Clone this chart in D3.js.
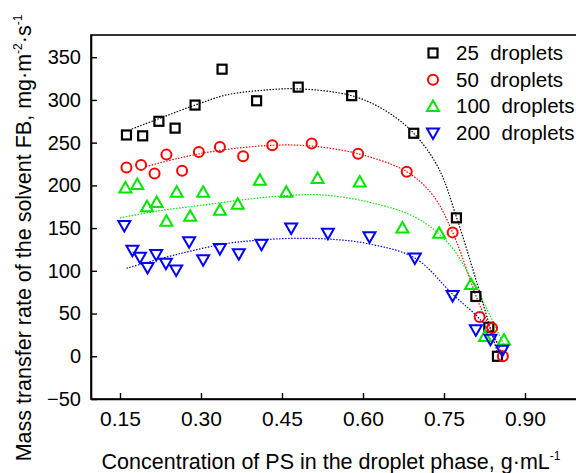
<!DOCTYPE html>
<html>
<head>
<meta charset="utf-8">
<script src="https://cdn.jsdelivr.net/npm/d3@7"></script>
<style>
  body { margin: 0; background: #fff; }
  text { font-family: "Liberation Sans", Arial, sans-serif; fill: #000; }
</style>
</head>
<body>
<script>
var conc25 = [0.162, 0.192, 0.222, 0.252, 0.289, 0.339, 0.403, 0.480, 0.579, 0.694, 0.773, 0.809, 0.833, 0.849]
var rate25 = [259, 258, 275, 267, 294, 336, 299, 315, 305, 261, 162, 70, 34, 0]

var conc50 = [0.162, 0.189, 0.214, 0.236, 0.265, 0.296, 0.335, 0.378, 0.432, 0.505, 0.591, 0.681, 0.766, 0.816, 0.839, 0.859]
var rate50 = [221, 224, 214, 236, 217, 239, 245, 234, 247, 249, 237, 216, 145, 46, 33, 0]

var conc100 = [0.160, 0.182, 0.200, 0.218, 0.236, 0.255, 0.280, 0.304, 0.335, 0.368, 0.409, 0.458, 0.516, 0.594, 0.673, 0.741, 0.800, 0.826, 0.861]
var rate100 = [197, 201, 175, 180, 158, 192, 164, 192, 171, 178, 206, 192, 208, 204, 150, 144, 84, 23, 19]

var conc200 = [0.158, 0.173, 0.187, 0.201, 0.217, 0.235, 0.254, 0.278, 0.304, 0.335, 0.370, 0.412, 0.467, 0.535, 0.612, 0.696, 0.766, 0.809, 0.836, 0.858]
var rate200 = [153, 124, 116, 104, 119, 109, 101, 134, 113, 126, 120, 131, 150, 144, 140, 115, 71, 31, 20, 7]

// fitted curves
var fitX25 = [0.172, 0.230, 0.289, 0.348, 0.409, 0.480, 0.579, 0.640, 0.694, 0.740, 0.773, 0.809, 0.849]
var fitY25 = [266, 280, 294, 306, 311, 313, 305, 288, 261, 220, 163, 90, 4]

var fitX50 = [0.198, 0.260, 0.335, 0.434, 0.505, 0.591, 0.681, 0.730, 0.766, 0.816, 0.857]
var fitY50 = [222, 232, 241, 247, 246, 237, 216, 188, 145, 60, 4]

var fitX100 = [0.150, 0.220, 0.304, 0.390, 0.458, 0.520, 0.607, 0.699, 0.761, 0.811, 0.860]
var fitY100 = [162, 170, 177, 184, 188, 189, 181, 162, 130, 78, 15]

var fitX200 = [0.162, 0.254, 0.348, 0.410, 0.471, 0.540, 0.607, 0.696, 0.767, 0.817, 0.854]
var fitY200 = [103, 119, 132, 136, 138, 137, 132, 115, 72, 43, 11]

var xTicks = [0.15, 0.30, 0.45, 0.60, 0.75, 0.90]
var yTicks = [-50, 0, 50, 100, 150, 200, 250, 300, 350]

var w = 576
var h = 473

var svg = d3.select("body")
    .append("svg")
    .attr("width", w)
    .attr("height", h);

// scales
var xScale = d3.scaleLinear()
    .domain([0.0963, 1.0])
    .range([91, 579]);

var yScale = d3.scaleLinear()
    .domain([-50, 376])
    .range([399, 35]);

// frame
svg.append("rect")
    .attr("x", 91)
    .attr("y", 35)
    .attr("width", 490)
    .attr("height", 364)
    .attr("fill", "none")
    .attr("stroke", "#000")
    .attr("stroke-width", 1.6);

// x axis, ticks pointing inward
var xAxis = svg.append("g")
    .attr("transform", "translate(0,399)")
    .call(d3.axisBottom(xScale).tickValues(xTicks).tickFormat(d3.format(".2f")).tickSizeInner(-6).tickSizeOuter(0).tickPadding(12));
xAxis.select(".domain").attr("stroke-width", 1.6);
xAxis.selectAll(".tick line").attr("stroke-width", 1.4);
xAxis.selectAll("text").style("font-size", "21px").attr("font-family", null);

// y axis
var yAxis = svg.append("g")
    .attr("transform", "translate(91,0)")
    .call(d3.axisLeft(yScale).tickValues(yTicks).tickSizeInner(-6).tickSizeOuter(0).tickPadding(10));
yAxis.select(".domain").attr("stroke-width", 1.6);
yAxis.selectAll(".tick line").attr("stroke-width", 1.4);
yAxis.selectAll("text").style("font-size", "20px").attr("font-family", null);

// axis titles
var xt = svg.append("text")
    .attr("x", 331)
    .attr("y", 469)
    .attr("text-anchor", "middle")
    .style("font-size", "21.5px");
xt.append("tspan").text("Concentration of PS in the droplet phase, g\u00b7mL");
xt.append("tspan").attr("dy", -9).style("font-size", "12px").text("-1");

var yt = svg.append("text")
    .attr("transform", "translate(31,238) rotate(-90)")
    .attr("text-anchor", "middle")
    .style("font-size", "21.5px");
yt.append("tspan").text("Mass transfer rate of the solvent FB, mg\u00b7m");
yt.append("tspan").attr("dy", -9).style("font-size", "12px").text("-2");
yt.append("tspan").attr("dy", 9).text("\u00b7s");
yt.append("tspan").attr("dy", -9).style("font-size", "12px").text("-1");

// series
var series = [
  {name: "25  droplets", x: conc25, y: rate25, fx: fitX25, fy: fitY25, color: "#000000", shape: "square"},
  {name: "50  droplets", x: conc50, y: rate50, fx: fitX50, fy: fitY50, color: "#ff0000", shape: "circle"},
  {name: "100  droplets", x: conc100, y: rate100, fx: fitX100, fy: fitY100, color: "#00e600", shape: "up"},
  {name: "200  droplets", x: conc200, y: rate200, fx: fitX200, fy: fitY200, color: "#0000ff", shape: "down"}
]

var line = d3.line()
    .x(function(d) { return xScale(d[0]); })
    .y(function(d) { return yScale(d[1]); })
    .curve(d3.curveCatmullRom);

// dotted fit lines
series.forEach(function(s) {
  var pts = s.fx.map(function(v, i) { return [v, s.fy[i]]; });
  svg.append("path")
      .attr("d", line(pts))
      .attr("fill", "none")
      .attr("stroke", s.color)
      .attr("stroke-width", 1.2)
      .attr("stroke-dasharray", "1.5,1.5");
});

// marker drawing
function drawMarker(g, shape, color, cx, cy) {
  if (shape == "square") {
    g.append("rect")
        .attr("x", cx - 4.5).attr("y", cy - 4.5)
        .attr("width", 9).attr("height", 9)
        .attr("fill", "none").attr("stroke", color).attr("stroke-width", 2.2);
  } else if (shape == "circle") {
    g.append("circle")
        .attr("cx", cx).attr("cy", cy).attr("r", 5)
        .attr("fill", "none").attr("stroke", color).attr("stroke-width", 2);
  } else if (shape == "up") {
    g.append("path")
        .attr("d", "M" + cx + "," + (cy - 6) + "L" + (cx + 6) + "," + (cy + 4.5) + "L" + (cx - 6) + "," + (cy + 4.5) + "Z")
        .attr("fill", "none").attr("stroke", color).attr("stroke-width", 2);
  } else {
    g.append("path")
        .attr("d", "M" + cx + "," + (cy + 6) + "L" + (cx + 6) + "," + (cy - 4.5) + "L" + (cx - 6) + "," + (cy - 4.5) + "Z")
        .attr("fill", "none").attr("stroke", color).attr("stroke-width", 2);
  }
}

series.forEach(function(s) {
  var g = svg.append("g");
  for (var i = 0; i < s.x.length; i++) {
    drawMarker(g, s.shape, s.color, xScale(s.x[i]), yScale(s.y[i]));
  }
});

// legend
series.forEach(function(s, i) {
  var ly = 53 + i * 26.7;
  var g = svg.append("g");
  drawMarker(g, s.shape, s.color, 433, ly);
  g.append("text")
      .attr("x", 456)
      .attr("y", ly + 7)
      .style("font-size", "20.5px")
      .style("white-space", "pre")
      .attr("xml:space", "preserve")
      .text(s.name);
});
</script>
</body>
</html>
